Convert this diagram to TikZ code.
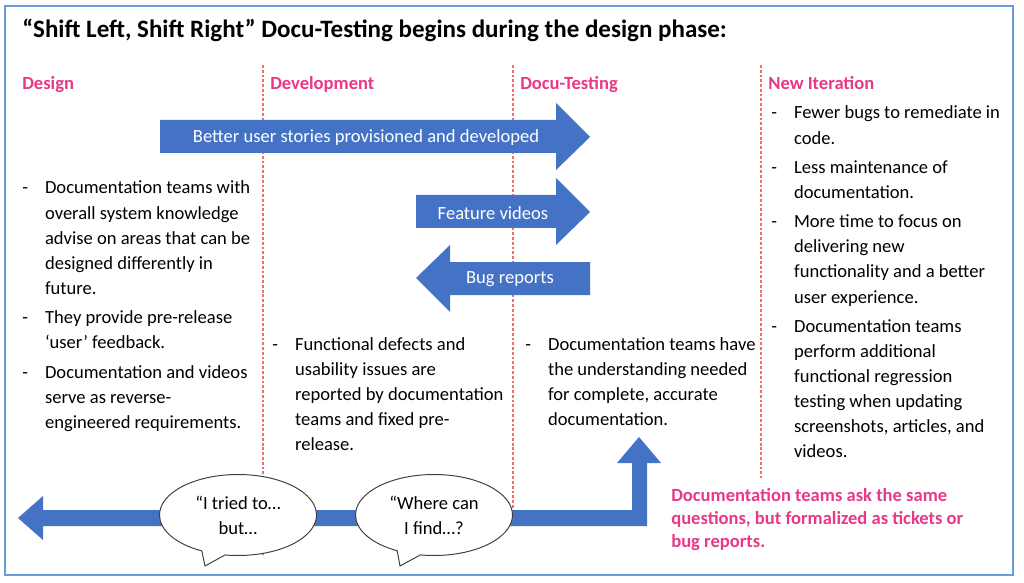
\documentclass[tikz,border=0pt]{standalone}
\usepackage{fontspec}
\setmainfont{Carlito}
\definecolor{FrameBlue}{RGB}{106, 156, 214}
\definecolor{ArrowBlue}{RGB}{68, 114, 196}
\definecolor{PhasePink}{RGB}{232, 56, 136}
\definecolor{DashRed}{RGB}{240, 110, 110}
\usetikzlibrary{shapes.callouts, positioning}

\newdimen\unitpx
\unitpx=0.025cm
\newcommand{\bodyfont}{\fontsize{13.2}{17.8}\selectfont}
\newcommand{\dashlist}[1]{\begin{tabular}[t]{@{}p{0.57cm}@{}l@{}}#1\end{tabular}}
\newcommand{\linestack}[1]{\begin{tabular}[t]{@{}l@{}}#1\end{tabular}}

\begin{document}
\begin{tikzpicture}[x=0.025cm, y=-0.025cm,
    phase/.style={anchor=base west, inner sep=0pt, text=PhasePink, font=\bodyfont\bfseries},
    bullets/.style={anchor=base west, inner sep=0pt, font=\bodyfont},
    blockarrow/.style={fill=ArrowBlue},
    arrowtext/.style={text=white, font=\bodyfont},
    phaseline/.style={DashRed, line width=0.8pt, dash pattern=on 2pt off 1.4pt},
    bubble/.style={ellipse callout, draw=black!75, line width=0.7pt, fill=white,
      align=center, font=\bodyfont, inner sep=0pt,
      minimum width=157\unitpx, minimum height=81\unitpx, callout pointer arc=18}]
  \useasboundingbox (0,0) rectangle (1024,583);
  \draw[FrameBlue, line width=1.4pt] (5,6) rectangle (1013,575);

  % title and phases
  \node[anchor=base west, inner sep=0pt, font=\fontsize{17.8}{20}\selectfont\bfseries] (title) at (22,38)
    {“Shift Left, Shift Right” Docu-Testing begins during the design phase:};
  \node[phase] (design) at (22,90) {Design};
  \node[phase] (develop) at (270,90) {Development};
  \node[phase] (docutest) at (520,90) {Docu-Testing};
  \node[phase] (newiter) at (768,90) {New Iteration};

  \draw[phaseline] (263,65) -- (263,555);
  \draw[phaseline] (513,65) -- (513,510);
  \draw[phaseline] (761,65) -- (761,478);

  % block arrows
  \fill[blockarrow] (160,120) -- (556,120) -- (556,103) -- (590,137) -- (556,170) -- (556,153) -- (160,153) -- cycle;
  \node[arrowtext] (stories) at (366,138) {Better user stories provisioned and developed};
  \fill[blockarrow] (416,195) -- (556,195) -- (556,178) -- (590,212) -- (556,245) -- (556,228) -- (416,228) -- cycle;
  \node[arrowtext] (videos) at (493,213) {Feature videos};
  \fill[blockarrow] (590,262) -- (450,262) -- (450,245) -- (416,278) -- (450,312) -- (450,295) -- (590,295) -- cycle;
  \node[arrowtext] (bugs) at (510,279) {Bug reports};

  % bullet lists
  \node[bullets] (designlist) at (22,194) {\dashlist{-&Documentation teams with\\&overall system knowledge\\&advise on areas that can be\\&designed differently in\\&future.\\[0.11cm]
    -&They provide pre-release\\&‘user’ feedback.\\[0.11cm]
    -&Documentation and videos\\&serve as reverse-\\&engineered requirements.}};
  \node[bullets] (developlist) at (272,350) {\dashlist{-&Functional defects and\\&usability issues are\\&reported by documentation\\&teams and fixed pre-\\&release.}};
  \node[bullets] (docutestlist) at (525,350) {\dashlist{-&Documentation teams have\\&the understanding needed\\&for complete, accurate\\&documentation.}};
  \node[bullets] (newiterlist) at (771,119) {\dashlist{-&Fewer bugs to remediate in\\&code.\\[0.11cm]
    -&Less maintenance of\\&documentation.\\[0.11cm]
    -&More time to focus on\\&delivering new\\&functionality and a better\\&user experience.\\[0.11cm]
    -&Documentation teams\\&perform additional\\&functional regression\\&testing when updating\\&screenshots, articles, and\\&videos.}};

  % feedback loop
  \fill[blockarrow] (18,518) -- (43,496) -- (43,510) -- (632,510) -- (632,463) -- (617,463) -- (639,437)
    -- (661,463) -- (647,463) -- (647,526) -- (43,526) -- (43,540) -- cycle;
  \node[bubble, callout absolute pointer={(205,566)}] (tried) at (238,515) {“I tried to…\\but…};
  \node[bubble, callout absolute pointer={(400,566)}] (where) at (434,515) {“Where can\\I find…?};
  \node[bullets, text=PhasePink, font=\fontsize{13.2}{16.4}\selectfont\bfseries] (askquestions) at (671,501)
    {\linestack{Documentation teams ask the same\\questions, but formalized as tickets or\\bug reports.}};
\end{tikzpicture}
\end{document}
